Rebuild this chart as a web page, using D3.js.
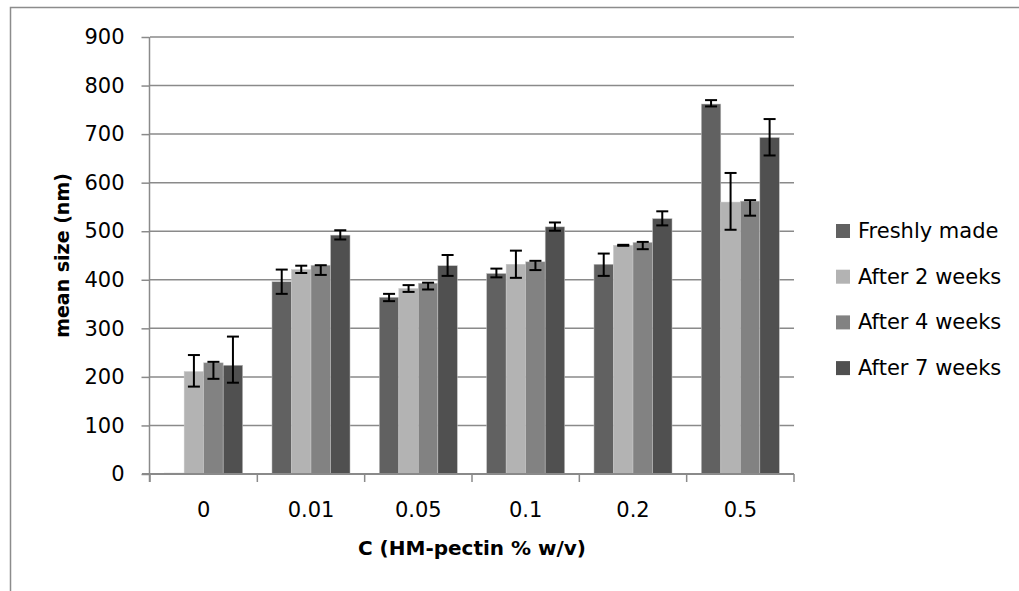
<!DOCTYPE html>
<html>
<head>
<meta charset="utf-8">
<title>Mean size vs HM-pectin</title>
<script src="https://d3js.org/d3.v7.min.js"></script>
<style>
  body { margin: 0; background: #fff; }
  text { font-family: "DejaVu Sans", sans-serif; fill: #000; }
</style>
</head>
<body>
<div id="chart"></div>
<script type="text/javascript">

// categories on the x axis
var categories = ["0", "0.01", "0.05", "0.1", "0.2", "0.5"];
var seriesNames = ["Freshly made", "After 2 weeks", "After 4 weeks", "After 7 weeks"];
var seriesColors = ["#616161", "#b3b3b3", "#828282", "#505050"];

// mean size (nm)
var freshly = [2, 396, 364, 413, 432, 762];
var week2 = [211, 421, 382, 432, 471, 560];
var week4 = [229, 430, 393, 437, 477, 562];
var week7 = [224, 492, 429, 509, 526, 693];

// error bars, up / down amounts
var freshlyUp = [0, 25, 7, 10, 22, 8];
var freshlyDown = [0, 25, 8, 8, 24, 5];
var week2Up = [34, 8, 7, 28, 1, 60];
var week2Down = [31, 7, 7, 28, 1, 57];
var week4Up = [2, 0, 1, 2, 1, 2];
var week4Down = [33, 20, 13, 17, 14, 30];
var week7Up = [59, 10, 22, 9, 15, 38];
var week7Down = [36, 9, 21, 8, 14, 37];

var yTicks = [0, 100, 200, 300, 400, 500, 600, 700, 800, 900];

var values = [freshly, week2, week4, week7];
var ups = [freshlyUp, week2Up, week4Up, week7Up];
var downs = [freshlyDown, week2Down, week4Down, week7Down];

var width = 1019;
var height = 591;
var svg = d3.select("#chart").append("svg").attr("width", width).attr("height", height);

// outer chart border
svg.append("rect").attr("x", 10.5).attr("y", 7.5).attr("width", 1100).attr("height", 1000)
	.attr("fill", "none").attr("stroke", "#8c8c8c").attr("stroke-width", 1.5);

var plotLeft = 150, plotRight = 794, plotTop = 37, plotBottom = 474;

var x = d3.scaleBand().domain(categories).range([plotLeft, plotRight]).paddingInner(0).paddingOuter(0);
var x1 = d3.scaleBand().domain(d3.range(seriesNames.length)).range([0, x.bandwidth()]).paddingInner(0).paddingOuter(0.75);
var y = d3.scaleLinear().domain([0, 900]).range([plotBottom, plotTop]);

// gridlines
svg.append("g").selectAll("line").data(yTicks.filter(function(d) { return d > 0; })).enter().append("line")
	.attr("x1", plotLeft).attr("x2", plotRight)
	.attr("y1", function(d) { return y(d); }).attr("y2", function(d) { return y(d); })
	.attr("stroke", "#8a8a8a").attr("stroke-width", 1.5);

// y axis
var yAxis = svg.append("g").attr("transform", "translate(" + (plotLeft - 0.5) + ",0)")
	.call(d3.axisLeft(y).tickValues(yTicks).tickSize(8).tickPadding(17));
yAxis.select(".domain").attr("stroke", "#8a8a8a").attr("stroke-width", 1.5)
	.attr("d", "M0," + plotTop + "V" + (plotBottom + 8));
yAxis.selectAll(".tick line").attr("stroke", "#8a8a8a").attr("stroke-width", 1.5);
yAxis.selectAll(".tick text").style("font-size", "21px").style("font-family", "DejaVu Sans").attr("fill", "#000");

// bars
var groups = svg.append("g").selectAll("g").data(categories).enter().append("g")
	.attr("transform", function(d) { return "translate(" + x(d) + ",0)"; });

groups.selectAll("rect").data(function(c, ci) {
		return values.map(function(s, si) { return { s: si, v: s[ci] }; });
	}).enter().append("rect")
	.attr("x", function(d) { return x1(d.s); })
	.attr("width", x1.bandwidth())
	.attr("y", function(d) { return y(d.v); })
	.attr("height", function(d) { return y(0) - y(d.v); })
	.attr("fill", function(d) { return seriesColors[d.s]; })
	.attr("stroke", "#c8c8c8").attr("stroke-width", 0.5);

// x axis line and boundary ticks
var xAxis = svg.append("g").attr("transform", "translate(0," + plotBottom + ")")
	.call(d3.axisBottom(x).tickSize(0).tickPadding(0));
xAxis.select(".domain").attr("stroke", "#8a8a8a").attr("stroke-width", 2)
	.attr("d", "M" + (plotLeft - 8) + ",0H" + plotRight);
xAxis.selectAll(".tick text").attr("y", 43).attr("dy", 0)
	.style("font-size", "21px").style("font-family", "DejaVu Sans").attr("fill", "#000");

var bounds = categories.map(function(c) { return x(c); }).concat([plotRight]);
svg.append("g").selectAll("line").data(bounds).enter().append("line")
	.attr("x1", function(d) { return d; }).attr("x2", function(d) { return d; })
	.attr("y1", plotBottom).attr("y2", plotBottom + 8)
	.attr("stroke", "#8a8a8a").attr("stroke-width", 1.5);

// error bars
var errs = [];
categories.forEach(function(c, ci) {
	values.forEach(function(s, si) {
		if (ups[si][ci] === 0 && downs[si][ci] === 0) return;
		errs.push({ c: c, s: si, hi: s[ci] + ups[si][ci], lo: s[ci] - downs[si][ci] });
	});
});
var eg = svg.append("g").selectAll("g").data(errs).enter().append("g")
	.attr("transform", function(d) { return "translate(" + (x(d.c) + x1(d.s) + x1.bandwidth() / 2) + ",0)"; })
	.attr("stroke", "#000").attr("stroke-width", 2);
eg.append("line").attr("x1", 0).attr("x2", 0)
	.attr("y1", function(d) { return y(d.hi); }).attr("y2", function(d) { return y(d.lo); });
eg.append("line").attr("x1", -6).attr("x2", 6)
	.attr("y1", function(d) { return y(d.hi); }).attr("y2", function(d) { return y(d.hi); });
eg.append("line").attr("x1", -6).attr("x2", 6)
	.attr("y1", function(d) { return y(d.lo); }).attr("y2", function(d) { return y(d.lo); });

// axis titles
svg.append("text").attr("transform", "translate(69," + ((plotTop + plotBottom) / 2) + ") rotate(-90)")
	.attr("text-anchor", "middle").style("font-size", "19px").style("font-weight", "bold")
	.text("mean size (nm)");
svg.append("text").attr("x", (plotLeft + plotRight) / 2).attr("y", 555)
	.attr("text-anchor", "middle").style("font-size", "20px").style("font-weight", "bold")
	.text("C (HM-pectin % w/v)");

// legend
var legend = svg.append("g").selectAll("g").data(seriesNames).enter().append("g")
	.attr("transform", function(d, i) { return "translate(836," + (224 + i * 45.7) + ")"; });
legend.append("rect").attr("width", 14).attr("height", 14)
	.attr("fill", function(d, i) { return seriesColors[i]; });
legend.append("text").attr("x", 22).attr("y", 14).style("font-size", "21px").text(function(d) { return d; });

</script>
</body>
</html>
